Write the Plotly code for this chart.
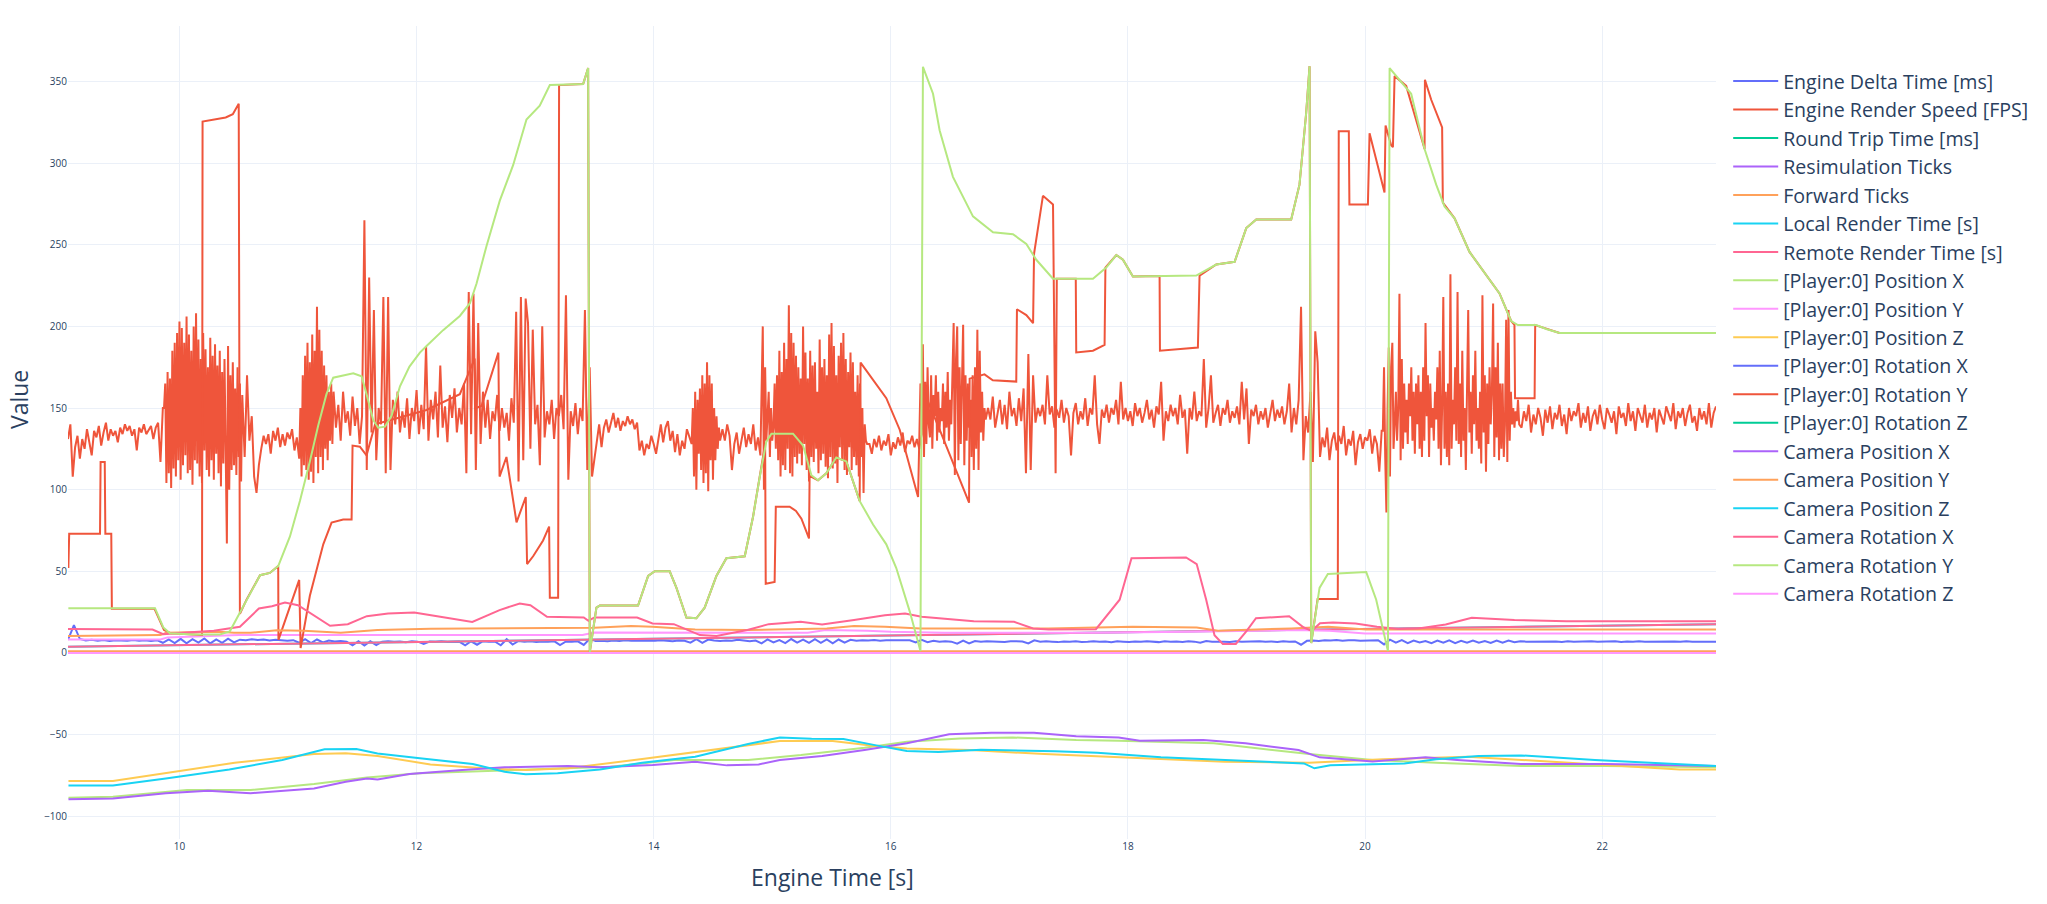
import numpy as np
import plotly.graph_objects as go

# ---------------- Engine Render Speed [FPS] ----------------
# The FPS log is stored in segments: each segment has a start time, a sample step and its values.
fps_starts = [9.06, 9.87, 10.55, 11.02, 11.32, 14.33, 14.58, 14.91, 15.82, 16.27, 16.82, 20.15, 21.32]
fps_steps = [0.02, 0.01, 0.02, 0.01, 0.02, 0.01, 0.02, 0.01, 0.02, 0.01, 0.02, 0.01, 0.02]

fps_s1 = [131, 140, 108, 126, 133, 119, 131, 125, 137, 128,
          121, 136, 132, 139, 127, 135, 141, 130, 137, 133,
          136, 129, 138, 134, 140, 136, 139, 133, 137, 124,
          138, 135, 140, 134, 137, 139, 131, 138, 141, 117, 150]
fps_s2 = [150, 165, 104, 172, 110, 168, 101, 185, 113, 190,
          108, 196, 118, 203, 106, 199, 115, 190, 121, 206,
          110, 195, 112, 185, 103, 200, 118, 208, 116, 192,
          108, 180, 104, 196, 124, 186, 112, 175, 108, 193,
          118, 182, 106, 189, 122, 176, 110, 185, 102, 172,
          116, 180, 105, 67, 188, 100, 170, 112, 178, 115,
          162, 109, 175, 120, 165, 105, 158]
fps_s3 = [120, 170, 130, 145, 108, 98, 115, 125, 133, 128, 134, 122,
          136, 130, 138, 126, 134, 127, 135, 131, 137, 124, 132, 119]
fps_s4 = [150, 108, 170, 115, 182, 112, 190, 106, 178, 111, 195, 104, 185, 120, 212,
          110, 198, 120, 185, 112, 176, 125, 170, 118, 160, 130, 165, 128, 160]
fps_s5 = [138, 152, 130, 160, 141, 148, 133,
          157, 139, 150, 128, 145, 265, 112, 230, 135, 210,
          118, 150, 140, 218, 110, 218, 112, 155, 140, 160,
          135, 148, 138, 156, 131, 150, 142, 161, 134, 152,
          137, 188, 130, 155, 143, 160, 132, 176, 138, 151,
          129, 158, 144, 162, 135, 150, 140, 165, 110, 221,
          134, 220, 112, 202, 128, 160, 138, 155, 131, 148,
          142, 158, 136, 150, 138, 147, 130, 156, 141, 209,
          105, 218, 118, 217, 202, 125, 198, 140, 152, 115,
          200, 132, 148, 140, 155, 131, 150, 145, 158, 137,
          219, 106, 148, 139, 153, 134, 150, 142, 210, 112,
          175, 108, 118, 130, 140, 126, 138, 143, 135, 141,
          147, 138, 144, 136, 142, 139, 145, 140, 143, 137,
          141, 124, 130, 121, 128, 125, 133, 128, 122, 131,
          140, 129, 138, 142, 130, 136, 123, 134, 121, 130,
          125, 137, 133, 128]
fps_s6 = [150, 108, 160, 100, 155, 122, 162, 112, 170, 104, 165, 110,
          178, 99, 170, 118, 165, 106, 150, 118, 145, 125, 138, 130]
fps_s7 = [137, 130, 140, 133, 112, 128, 135, 122, 130, 138, 126, 134, 128, 140, 124, 132, 121]
fps_s8 = [160, 200, 100, 175, 130, 142, 160, 120, 150, 130,
          138, 165, 125, 170, 118, 185, 108, 172, 115, 190,
          112, 180, 125, 213, 110, 196, 108, 190, 120, 182,
          116, 175, 122, 168, 115, 200, 128, 184, 112, 168,
          105, 185, 120, 176, 117, 178, 125, 160, 110, 192,
          118, 175, 122, 180, 114, 170, 107, 195, 120, 202,
          113, 188, 116, 170, 104, 182, 126, 190, 118, 196,
          112, 180, 109, 172, 126, 184, 112, 178, 120, 160,
          115, 170, 108, 165, 120, 150, 98, 140, 130, 128]
fps_s9 = [128, 122, 131, 126, 133, 124, 130, 127, 134, 121, 129, 125,
          132, 127, 135, 123, 130, 128, 133, 126, 131, 125, 134]
fps_s10 = [189, 120, 166, 128, 175, 140, 132, 170, 125, 158,
           145, 170, 130, 160, 135, 150, 142, 165, 128, 160,
           138, 172, 130, 155, 140, 168, 202, 109, 180, 200,
           118, 175, 128, 165, 201, 115, 170, 130, 165, 138,
           155, 120, 170, 112, 175, 125, 198, 112, 185, 135,
           160, 130, 150, 143]
fps_s11 = [150, 143,
           157, 138, 148, 155, 140, 152, 137, 160, 145, 150,
           139, 156, 142, 162, 110, 183, 112, 170, 141, 150,
           145, 152, 140, 170, 146, 151, 138, 149, 144, 155,
           141, 150, 145, 121, 147, 153, 140, 148, 143, 156,
           139, 150, 146, 170, 140, 128, 149, 144, 152, 141,
           150, 146, 155, 140, 166, 143, 150, 142, 148, 139,
           153, 145, 150, 141, 147, 155, 143, 149, 138, 151,
           146, 166, 130, 148, 142, 152, 145, 150, 140, 158,
           144, 149, 122, 150, 143, 160, 142, 148, 145, 180,
           138, 150, 170, 141, 147, 152, 139, 150, 146, 155,
           141, 148, 144, 151, 140, 166, 143, 162, 128, 149,
           145, 152, 140, 148, 143, 150, 138, 147, 155, 142,
           149, 144, 151, 140, 148, 165, 135, 150, 140, 155,
           212, 118, 145, 135, 160, 117, 197, 178, 120, 132,
           126, 138, 118, 130, 135, 124, 133, 128, 139, 121,
           131, 127, 136, 115, 129, 134, 125, 132, 130, 137,
           122, 133, 128, 111, 136]
fps_s12 = [136, 175, 120, 86, 150, 187, 108, 175, 190, 125,
           140, 160, 130, 150, 220, 118, 180, 125, 165, 135,
           155, 128, 165, 145, 175, 130, 160, 122, 165, 140,
           170, 125, 160, 120, 175, 130, 202, 145, 170, 120,
           165, 138, 150, 130, 160, 143, 175, 125, 185, 115,
           150, 218, 125, 160, 120, 165, 115, 232, 125, 155,
           140, 175, 130, 221, 128, 165, 120, 185, 130, 150,
           112, 175, 210, 135, 160, 122, 170, 140, 185, 130,
           150, 125, 160, 116, 219, 135, 170, 111, 165, 128,
           175, 140, 160, 214, 120, 175, 132, 190, 118, 165,
           125, 165, 120, 140, 204, 117, 210, 130, 160, 140,
           150, 138, 148, 142, 155, 140]
fps_s13 = [138, 148, 142, 152, 135, 146, 140,
           150, 144, 133, 149, 141, 151, 137, 147, 143, 152,
           139, 146, 134, 150, 142, 148, 145, 153, 138, 147,
           141, 151, 136, 145, 149, 140, 152, 143, 137, 150,
           146, 141, 148, 134, 151, 144, 147, 139, 153, 142,
           148, 136, 150, 145, 141, 152, 138, 147, 143, 150,
           135, 149, 144, 140, 151, 146, 142, 153, 137, 148,
           144, 150, 139, 147, 152, 141, 145, 136, 150, 143,
           148, 140, 153, 138, 147, 151]
fps_segments_values = [fps_s1, fps_s2, fps_s3, fps_s4, fps_s5, fps_s6, fps_s7,
                       fps_s8, fps_s9, fps_s10, fps_s11, fps_s12, fps_s13]

# ---------------- Engine Delta Time [ms] (sampled every 0.05 s) ----------------
delta_t0, delta_dt = 9.06, 0.05
delta_values = [
    8, 17, 8.5, 7.6, 8.0, 7.5, 7.9, 7.3, 7.8, 7.6,
    7.4, 7.9, 7.5, 7.7, 7.3, 7.8, 6.2, 8.3, 6.0, 8.6,
    5.9, 8.4, 6.3, 8.8, 5.8, 8.2, 6.1, 8.7, 6.4, 8.1,
    7.8, 8.4, 7.9, 8.2, 7.6, 8.1, 7.7, 7.4, 7.8, 6.2,
    8.4, 6.0, 8.2, 6.4, 7.6, 7.0, 7.3, 6.9, 4.6, 7.2,
    4.5, 7.1, 4.8, 6.9, 7.2, 6.8, 7.0, 6.6, 7.1, 6.9,
    5.5, 7.0, 6.8, 7.2, 6.7, 7.0, 6.9, 4.6, 7.1, 5.0,
    7.2, 6.8, 7.0, 4.7, 8.4, 5.1, 7.3, 6.9, 7.1, 6.7,
    7.0, 6.8, 7.2, 4.8, 7.0, 6.9, 7.1, 4.9, 8.6, 7.3,
    7.5, 7.2, 7.6, 7.3, 7.7, 7.4, 7.5, 7.9, 7.6, 7.4,
    7.8, 7.5, 7.2, 7.6, 7.4, 6.3, 8.4, 6.2, 8.2, 7.6,
    7.3, 7.6, 7.4, 8.0, 7.5, 7.2, 7.6, 5.8, 8.3, 6.4,
    7.9, 6.0, 8.5, 6.3, 8.1, 6.1, 8.4, 6.2, 8.3, 5.9,
    8.2, 6.3, 8.0, 7.4, 7.8, 7.6, 7.9, 7.5, 7.7, 7.6,
    7.8, 7.5, 7.7, 6.4, 8.0, 6.6, 7.4, 6.8, 7.2, 6.9,
    5.6, 7.5, 5.8, 7.3, 6.8, 7.1, 6.9, 7.0, 6.7, 7.2,
    6.9, 7.0, 5.8, 7.7, 6.8, 7.1, 6.9, 6.6, 7.0, 6.8,
    7.1, 6.7, 6.9, 7.2, 6.8, 7.0, 6.6, 7.1, 6.9, 6.7,
    7.0, 6.8, 7.2, 6.9, 6.6, 7.1, 6.8, 7.0, 6.7, 7.1,
    6.9, 6.2, 7.3, 6.8, 7.0, 6.9, 6.7, 7.1, 6.8, 7.0,
    6.9, 7.1, 6.8, 7.0, 6.7, 7.2, 6.9, 7.0, 5.0, 7.4,
    7.6, 7.3, 7.8, 7.6, 7.9, 7.5, 7.7, 7.8, 7.4, 7.6,
    7.5, 7.8, 5.2, 8.1, 6.3, 7.8, 6.0, 7.6, 6.4, 7.3,
    6.0, 7.5, 6.2, 7.7, 6.0, 7.4, 6.2, 7.6, 6.3, 7.2,
    6.1, 7.6, 6.2, 7.5, 6.6, 7.1, 6.9, 7.0, 6.8, 7.1,
    6.9, 7.0, 6.7, 7.2, 6.8, 7.0, 6.9, 7.1, 6.8, 7.0,
    6.9, 7.1, 6.7, 7.0, 6.8, 7.2, 6.9, 7.0, 6.8, 7.1,
    6.9, 7.0, 6.8, 7.1, 6.9, 7.0, 6.8, 7.0, 6.9,
]

# ---------------- flat / slow series ----------------
span_t = [9.06, 22.96]
rtt_values = [0, 0]
resim_values = [0, 0]
forward_values = [1, 1]
render_t = [9.06, 22.96]
local_render_values = [3.8, 17.6]
remote_render_values = [3.8, 17.6]
rot_x_values = [0, 0]
rot_z_values = [0, 0]
cam_rot_z_values = [0, 0]

# Player position X / Camera position X
posx_t = [9.064, 9.439, 10.064, 10.6, 11.135, 11.582, 12.028, 12.564, 13.1, 13.635, 14.171, 14.796,
          15.242, 15.778, 16.135, 16.582, 17.028, 17.564, 17.921, 18.725, 19.528, 20.064, 20.6,
          21.314, 22.028, 22.96]
posx_v = [-88.7, -88.1, -84, -84, -80.3, -76.3, -73.8, -72.4, -71.4, -69.7, -65.6, -65.6,
          -62.6, -58.1, -54.4, -52.4, -51.8, -53.4, -53.8, -55.4, -62, -65.6, -67.3,
          -69.3, -69.3, -70.1]
camx_t = [9.064, 9.439, 9.885, 10.242, 10.6, 11.135, 11.403, 11.582, 11.671, 11.939, 12.385, 12.742,
          13.278, 13.546, 13.992, 14.35, 14.617, 14.885, 15.064, 15.421, 15.778, 16.135, 16.492,
          16.85, 17.207, 17.564, 17.921, 18.1, 18.635, 18.992, 19.439, 19.617, 20.064, 20.51,
          20.778, 21.314, 22.028, 22.96]
camx_v = [-89.6, -89.2, -86, -84.4, -86, -83, -78.9, -76.9, -77.5, -74.2, -71.8, -70.1,
          -69.3, -70.1, -68.7, -66.7, -68.9, -68.3, -65.6, -63.2, -59.5, -55.4, -49.9,
          -48.9, -48.9, -51, -51.8, -53.8, -53.4, -55.4, -59.5, -64, -66.5, -64,
          -65.6, -68.1, -68.1, -69.3]

# Player position Z / Camera position Z
posz_t = [9.064, 9.439, 10.466, 11.135, 11.403, 11.671, 12.117, 12.564, 12.921, 13.278, 13.903,
          14.528, 15.064, 15.51, 15.867, 16.135, 16.671, 17.296, 17.921, 18.814, 19.528, 20.153,
          20.867, 21.492, 22.207, 22.653, 22.96]
posz_v = [-78.5, -78.5, -67.3, -62, -61.4, -63.2, -68.3, -70.7, -71.8, -70.7, -65,
          -59.1, -54, -54, -57.1, -58.5, -59.5, -62, -64, -66.7, -67.3, -65.2,
          -63.6, -66.3, -69.7, -71.4, -71.4]
camz_t = [9.064, 9.439, 9.885, 10.421, 10.867, 11.224, 11.492, 11.671, 12.028, 12.474, 12.742,
          12.921, 13.189, 13.546, 13.903, 14.35, 14.796, 15.064, 15.332, 15.6, 15.867, 16.135,
          16.403, 16.76, 17.385, 17.742, 18.278, 18.903, 19.484, 19.573, 19.707, 20.332, 20.6,
          20.957, 21.314, 21.939, 22.564, 22.96]
camz_v = [-81.2, -81.2, -76.9, -71.4, -65.6, -59.1, -58.9, -61.6, -64.6, -68.1, -72.8,
          -74.4, -73.8, -71.4, -67.3, -63.6, -55.8, -51.8, -52.6, -52.8, -56.5, -60.1,
          -60.7, -59.3, -60.3, -61.2, -64, -66.1, -67.7, -70.7, -68.9, -67.7, -65.2,
          -63.2, -62.8, -65.6, -68.1, -69.3]

# Player position Y / Camera position Y
posy_t = [9.06, 9.84, 9.9, 10.5, 13.4, 13.5, 15.3, 15.45, 15.8, 16.0, 16.45, 17.7, 18.5, 19.4,
          19.7, 20.0, 22.96]
posy_v = [8.2, 8.2, 9.5, 10.9, 10.9, 12.5, 12.3, 14, 13.5, 12.9, 12.3, 12.3, 12.9, 14,
          13.6, 11.9, 11.9]
camy_t = [9.06, 9.84, 9.89, 10.33, 10.46, 10.6, 10.82, 11.05, 11.36, 11.67, 12.12, 12.56, 13.41,
          13.5, 13.81, 13.99, 14.35, 14.79, 15.46, 15.69, 15.95, 16.25, 17.33, 18.04, 18.58,
          18.76, 19.38, 19.69, 20.01, 22.96]
camy_v = [10.3, 10.9, 12.3, 12.9, 12.3, 12.3, 13.8, 13.6, 12.3, 14, 14.8, 15, 15,
          15.4, 16.4, 16, 14.3, 14, 15, 16.4, 16, 15, 15, 16, 15.6,
          13.5, 15, 16, 14.3, 14.3]

# Camera rotation X
camrx_t = [9.06, 9.773, 9.863, 10.29, 10.51, 10.67, 10.78, 10.89, 11.0, 11.13, 11.27, 11.42, 11.58,
           11.76, 11.98, 12.2, 12.47, 12.7, 12.87, 12.96, 13.1, 13.41, 13.45, 13.5, 13.86, 13.99,
           14.17, 14.39, 14.53, 14.79, 14.97, 15.24, 15.42, 15.69, 15.95, 16.12, 16.26, 16.7,
           17.04, 17.2, 17.33, 17.73, 17.93, 18.03, 18.49, 18.58, 18.66, 18.73, 18.8, 18.91,
           19.0, 19.08, 19.36, 19.48, 19.55, 19.62, 19.73, 19.92, 20.1, 20.28, 20.45, 20.68,
           20.9, 21.26, 21.7, 22.96]
camrx_v = [14.6, 14.3, 11.5, 13.5, 16, 27.2, 28.6, 30.9, 29.2, 23.1, 16.6, 17.6, 22.5,
           24.1, 24.8, 22.1, 19, 26.2, 30.3, 29.2, 22.1, 21.7, 19.7, 21.7, 21.7, 18,
           17.6, 10.9, 10.3, 14, 17.6, 19, 17.4, 20.1, 23.1, 24.1, 22.1, 19.4,
           19, 15, 14.3, 14.5, 32.6, 58, 58.5, 54.4, 32.6, 10.8, 5.5, 5.5,
           13.3, 21.2, 22.5, 15.7, 13.5, 18.1, 18.6, 18, 16, 14.6, 15, 17.4,
           21.5, 20.1, 19.4, 19.4]

# Camera rotation Y
camry_t = [9.063, 9.794, 9.864, 9.92, 10.117, 10.34, 10.425, 10.48, 10.566, 10.68, 10.763, 10.833,
           10.932, 11.016, 11.1, 11.17, 11.24, 11.297, 11.466, 11.536, 11.578, 11.634, 11.676,
           11.733, 11.789, 11.86, 11.94, 12.028, 12.084, 12.224, 12.365, 12.45, 12.506, 12.59,
           12.702, 12.815, 12.927, 13.039, 13.124, 13.405, 13.447, 13.461, 13.517, 13.545,
           13.868, 13.953, 14.009, 14.135, 14.192, 14.276, 14.36, 14.43, 14.529, 14.613,
           14.768, 14.838, 14.894, 14.95, 14.993, 15.175, 15.26, 15.33, 15.386, 15.456, 15.54,
           15.625, 15.737, 15.85, 15.962, 16.046, 16.16, 16.25, 16.271, 16.356, 16.412, 16.524,
           16.693, 16.862, 17.03, 17.143, 17.227, 17.368, 17.705, 17.817, 17.902, 17.958,
           18.042, 18.576, 18.745, 18.9, 18.998, 19.082, 19.377, 19.447, 19.503, 19.532,
           19.546, 19.616, 19.686, 20.01, 20.094, 20.193, 20.207, 20.347, 20.389, 20.502,
           20.6, 20.67, 20.755, 20.881, 21.022, 21.134, 21.232, 21.289, 21.443, 21.528,
           21.64, 22.96]
camry_v = [27.3, 27.3, 15.6, 12, 11.3, 11.3, 13.2, 20.5, 32.6, 47.6, 49, 53.2,
           71.3, 93.1, 117.3, 139.1, 158.5, 168.6, 171.3, 169.4, 158.5, 142.7, 137.9,
           138.6, 145.2, 163.3, 175.4, 183.9, 188, 197.7, 206.4, 214.2, 226.3, 249.3,
           277, 298.9, 326.7, 335.2, 347.8, 348.5, 358.2, 0.5, 27.7, 29,
           29, 47.1, 50, 50, 39.8, 21.7, 21.2, 27.7, 47.1, 58,
           59.2, 83.4, 107.6, 129.4, 134.3, 134.3, 127, 108.8, 105.7, 110, 119.7,
           117.3, 93.1, 78.6, 66.5, 52, 25.3, 1.1, 359, 342.5, 320, 291.6,
           267.4, 257.7, 256.5, 250.5, 240.8, 229.2, 229.2, 236, 243.7, 240.8,
           230.6, 231.1, 237.9, 239.6, 260.2, 265.5, 265.5, 286.8, 330.4, 359.4,
           6, 39.8, 48.3, 49.5, 32.6, 1.1, 358.2, 346.1, 342.5, 308.6,
           286.8, 273.5, 266.2, 245.6, 231.1, 220.2, 203.3, 200.8, 200.8, 198.4,
           196, 196]

# Player rotation Y
roty_t = [9.063, 9.07, 9.33, 9.335, 9.37, 9.375, 9.425, 9.43, 9.79, 9.87, 9.93, 10.19, 10.195,
          10.39, 10.45, 10.5, 10.51, 10.566, 10.68, 10.763, 10.833, 10.835, 11.01, 11.022, 11.1,
          11.213, 11.283, 11.381, 11.452, 11.46, 11.522, 11.578, 11.65, 12.084, 12.365, 12.49,
          12.5, 12.548, 12.69, 12.7, 12.758, 12.843, 12.921, 12.932, 12.983, 13.067, 13.118,
          13.124, 13.194, 13.202, 13.405, 13.447, 13.461, 13.517, 13.545, 13.868, 13.953,
          14.009, 14.135, 14.192, 14.276, 14.36, 14.43, 14.529, 14.613, 14.768, 14.838, 14.894,
          14.94, 14.945, 15.02, 15.03, 15.147, 15.2, 15.246, 15.31, 15.315, 15.386, 15.456,
          15.54, 15.625, 15.737, 15.745, 15.962, 16.075, 16.23, 16.25, 16.412, 16.66, 16.665,
          16.79, 16.86, 17.058, 17.064, 17.143, 17.2, 17.208, 17.283, 17.368, 17.39, 17.4,
          17.56, 17.564, 17.705, 17.803, 17.81, 17.902, 17.958, 18.042, 18.267, 18.27, 18.59,
          18.604, 18.745, 18.9, 18.998, 19.082, 19.377, 19.447, 19.503, 19.532, 19.546, 19.6,
          19.77, 19.778, 19.863, 19.868, 20.024, 20.038, 20.164, 20.173, 20.22, 20.235, 20.249,
          20.347, 20.502, 20.505, 20.558, 20.65, 20.656, 20.755, 20.881, 21.022, 21.134,
          21.232, 21.26, 21.265, 21.43, 21.435, 21.64, 22.96]
roty_v = [52, 73, 73, 117, 117, 73, 73, 27, 27, 14, 12, 11, 325.5,
          328, 330, 336.4, 24, 32.6, 47.6, 49, 53.2, 8, 44.7, 3, 35,
          66.5, 79.8, 81.7, 81.7, 127, 126.3, 121, 140, 148.8, 158.5, 180.3,
          150, 151.2, 183.9, 108, 120, 80, 95.5, 54.4, 59.2, 68.9, 77.4,
          33.8, 33.8, 347.8, 348.5, 358.2, 0.5, 27.7, 29, 29, 47.1,
          50, 50, 39.8, 21.7, 21.2, 27.7, 47.1, 58, 59.2, 83.4, 107.6,
          128, 42.3, 43.5, 89.5, 89.5, 87, 82.2, 70.1, 108.5, 105.7, 110,
          119.7, 117.3, 93.1, 177.8, 156, 136.7, 95.5, 165, 136.7, 92, 168,
          170.6, 167, 166.2, 210.5, 206.9, 202, 244.4, 280, 274.7, 110, 229.2,
          229.2, 184, 185.1, 188.7, 236, 243.7, 240.8, 230.6, 230.8, 185.1, 187,
          231, 237.9, 239.6, 260.2, 265.5, 265.5, 286.8, 330.4, 359.4, 6, 33,
          33, 319.5, 319.5, 274.7, 274.7, 318.3, 282, 323, 311, 309.8, 353.4,
          347.3, 308.6, 351, 338.8, 321.9, 275.9, 266.2, 245.6, 231.1, 220.2,
          203.3, 201, 156, 156, 200.8, 196, 196]

palette = ["#636efa", "#EF553B", "#00cc96", "#ab63fa", "#FFA15A",
           "#19d3f3", "#FF6692", "#B6E880", "#FF97FF", "#FECB52"]

# sample times of the FPS log, from each segment's start and step
fps_t = np.concatenate([s + st * np.arange(len(v))
                        for s, st, v in zip(fps_starts, fps_steps, fps_segments_values)])
fps_v = np.concatenate([np.asarray(v, dtype=float) for v in fps_segments_values])

fig = go.Figure()

def add(name, idx, **kw):
    fig.add_trace(go.Scatter(name=name, mode="lines",
                             line=dict(color=palette[idx % 10], width=2), **kw))

add("Engine Delta Time [ms]", 0, y=delta_values, x0=delta_t0, dx=delta_dt)
add("Engine Render Speed [FPS]", 1, x=fps_t, y=fps_v)
add("Round Trip Time [ms]", 2, x=span_t, y=rtt_values)
add("Resimulation Ticks", 3, x=span_t, y=resim_values)
add("Forward Ticks", 4, x=span_t, y=forward_values)
add("Local Render Time [s]", 5, x=render_t, y=local_render_values)
add("Remote Render Time [s]", 6, x=render_t, y=remote_render_values)
add("[Player:0] Position X", 7, x=posx_t, y=posx_v)
add("[Player:0] Position Y", 8, x=posy_t, y=posy_v)
add("[Player:0] Position Z", 9, x=posz_t, y=posz_v)
add("[Player:0] Rotation X", 10, x=span_t, y=rot_x_values)
add("[Player:0] Rotation Y", 11, x=roty_t, y=roty_v)
add("[Player:0] Rotation Z", 12, x=span_t, y=rot_z_values)
add("Camera Position X", 13, x=camx_t, y=camx_v)
add("Camera Position Y", 14, x=camy_t, y=camy_v)
add("Camera Position Z", 15, x=camz_t, y=camz_v)
add("Camera Rotation X", 16, x=camrx_t, y=camrx_v)
add("Camera Rotation Y", 17, x=camry_t, y=camry_v)
add("Camera Rotation Z", 18, x=span_t, y=cam_rot_z_values)

fig.update_layout(
    template="plotly_white",
    width=2047, height=904,
    margin=dict(l=68, r=331, t=26, b=65),
    font=dict(family="Open Sans", color="#2a3f5f"),
    showlegend=True,
    legend=dict(x=1.0074, y=0.956, xanchor="left", yanchor="top",
                font=dict(size=19.6), itemwidth=45),
    xaxis=dict(range=[9.06, 22.96], dtick=2, tickfont=dict(size=10), showline=False),
    yaxis=dict(range=[-114, 384], dtick=50, tickfont=dict(size=10)),
    annotations=[
        dict(text="Engine Time [s]", xref="paper", yref="paper", x=0.4636, y=-0.0467,
             xanchor="center", yanchor="middle", showarrow=False, font=dict(size=23)),
        dict(text="Value", xref="paper", yref="paper", x=-0.0297, y=0.540,
             xanchor="center", yanchor="middle", showarrow=False, textangle=-90,
             font=dict(size=23)),
    ],
)

fig.write_html("out.html")
